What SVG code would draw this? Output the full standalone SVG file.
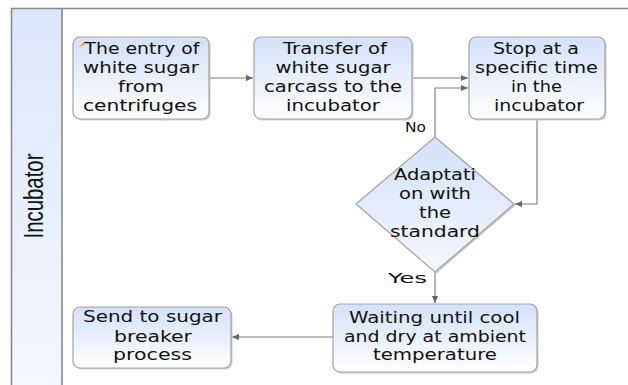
<svg xmlns="http://www.w3.org/2000/svg" width="628" height="385" viewBox="0 0 628 385">
<defs>
<linearGradient id="gNode" x1="0" y1="0" x2="0" y2="1">
<stop offset="0" stop-color="#d3e1fa"/>
<stop offset="1" stop-color="#ffffff"/>
</linearGradient>
<linearGradient id="gDia" x1="0" y1="0" x2="0" y2="1">
<stop offset="0" stop-color="#d3e1fa"/>
<stop offset="1" stop-color="#f4f8fe"/>
</linearGradient>
<linearGradient id="gLane" x1="0" y1="0" x2="0" y2="1">
<stop offset="0" stop-color="#dce6fb"/>
<stop offset="1" stop-color="#f4f7fe"/>
</linearGradient>
<marker id="arr" markerWidth="8" markerHeight="6" refX="7" refY="3" orient="auto" markerUnits="userSpaceOnUse">
<path d="M0,0 L7,3 L0,6 Z" fill="#666"/>
</marker>
</defs>
<style>
.box{fill:url(#gNode);stroke:#a3a3a3;stroke-width:1.2}
.shadow{fill:#cfcfcf}
.t{font-family:"DejaVu Sans",sans-serif;font-size:15px;fill:#111;text-anchor:middle}
.lbl{font-family:"DejaVu Sans",sans-serif;font-size:14px;fill:#111}
.c{fill:none;stroke:#7a7a7a;stroke-width:1.1;marker-end:url(#arr)}
</style>
<rect width="628" height="385" fill="#ffffff"/>
<g id="lane">
<rect x="11.5" y="8.5" width="50.5" height="380" fill="url(#gLane)"/>
<path d="M11.5,385 V8.5 H628" fill="none" stroke="#8a8a8a" stroke-width="1.6"/>
<path d="M62,8.5 V385" fill="none" stroke="#8a8a8a" stroke-width="1.6"/>
<text transform="translate(43,196) rotate(-90)" font-family="Liberation Sans, sans-serif" font-size="27" fill="#111" text-anchor="middle" textLength="85" lengthAdjust="spacingAndGlyphs">Incubator</text>
</g>
<g id="connectors">
<path class="c" d="M209,78 H253"/>
<path class="c" d="M412,78 H468"/>
<path class="c" d="M435,137 V88 H468"/>
<path class="c" d="M537,119 V204 H515"/>
<path class="c" d="M435,272 V303"/>
<path class="c" d="M333,337 H232"/>
<text class="lbl" x="405" y="132" textLength="21" lengthAdjust="spacingAndGlyphs">No</text>
<text class="lbl" x="388" y="283" textLength="39" lengthAdjust="spacingAndGlyphs">Yes</text>
</g>
<g id="n1">
<rect class="shadow" x="74.5" y="38.5" width="136" height="82" rx="7"/>
<rect class="box" x="73" y="37" width="136" height="82" rx="7"/>
<path d="M86.5,41.5 L82,43.2 L83.6,43.6 L79.5,46.5 L84.8,44.2 L83.2,43.8 Z" fill="#f0a818" stroke="#e8a010" stroke-width="0.6"/>
<text class="t" x="142" y="54" textLength="115" lengthAdjust="spacingAndGlyphs">The entry of</text>
<text class="t" x="141" y="73" textLength="116" lengthAdjust="spacingAndGlyphs">white sugar</text>
<text class="t" x="141" y="92" textLength="46" lengthAdjust="spacingAndGlyphs">from</text>
<text class="t" x="140" y="111" textLength="114" lengthAdjust="spacingAndGlyphs">centrifuges</text>
</g>
<g id="n2">
<rect class="shadow" x="255.5" y="38.5" width="158" height="82" rx="7"/>
<rect class="box" x="254" y="37" width="158" height="82" rx="7"/>
<text class="t" x="335" y="54" textLength="104" lengthAdjust="spacingAndGlyphs">Transfer of</text>
<text class="t" x="333" y="73" textLength="115" lengthAdjust="spacingAndGlyphs">white sugar</text>
<text class="t" x="333" y="92" textLength="138" lengthAdjust="spacingAndGlyphs">carcass to the</text>
<text class="t" x="333" y="111" textLength="94" lengthAdjust="spacingAndGlyphs">incubator</text>
</g>
<g id="n3">
<rect class="shadow" x="470.5" y="38.5" width="136" height="82" rx="7"/>
<rect class="box" x="469" y="37" width="136" height="82" rx="7"/>
<text class="t" x="536" y="54" textLength="86" lengthAdjust="spacingAndGlyphs">Stop at a</text>
<text class="t" x="536.5" y="73" textLength="123" lengthAdjust="spacingAndGlyphs">specific time</text>
<text class="t" x="536.5" y="92" textLength="51" lengthAdjust="spacingAndGlyphs">in the</text>
<text class="t" x="539" y="111" textLength="90" lengthAdjust="spacingAndGlyphs">incubator</text>
</g>
<g id="n4">
<path d="M436.5,138.5 L515.5,205.5 L436.5,273.5 L357.5,205.5 Z" fill="#c9c9c9"/>
<path d="M435,137 L514,204 L435,272 L356,204 Z" fill="url(#gDia)" stroke="#a3a3a3" stroke-width="1.2"/>
<text class="t" x="435" y="180" textLength="82" lengthAdjust="spacingAndGlyphs">Adaptati</text>
<text class="t" x="435" y="199" textLength="72" lengthAdjust="spacingAndGlyphs">on with</text>
<text class="t" x="435" y="218" textLength="32" lengthAdjust="spacingAndGlyphs">the</text>
<text class="t" x="435" y="237" textLength="90" lengthAdjust="spacingAndGlyphs">standard</text>
</g>
<g id="n5">
<rect class="shadow" x="334.5" y="305.5" width="204" height="68" rx="7"/>
<rect class="box" x="333" y="304" width="204" height="68" rx="7"/>
<text class="t" x="434.5" y="323" textLength="171" lengthAdjust="spacingAndGlyphs">Waiting until cool</text>
<text class="t" x="435" y="342" textLength="182" lengthAdjust="spacingAndGlyphs">and dry at ambient</text>
<text class="t" x="435" y="360" textLength="124" lengthAdjust="spacingAndGlyphs">temperature</text>
</g>
<g id="n6">
<rect class="shadow" x="74.5" y="308.5" width="158" height="61" rx="7"/>
<rect class="box" x="73" y="307" width="158" height="61" rx="7"/>
<text class="t" x="152.5" y="322" textLength="139" lengthAdjust="spacingAndGlyphs">Send to sugar</text>
<text class="t" x="153" y="342" textLength="78" lengthAdjust="spacingAndGlyphs">breaker</text>
<text class="t" x="152.5" y="360" textLength="79" lengthAdjust="spacingAndGlyphs">process</text>
</g>
</svg>
